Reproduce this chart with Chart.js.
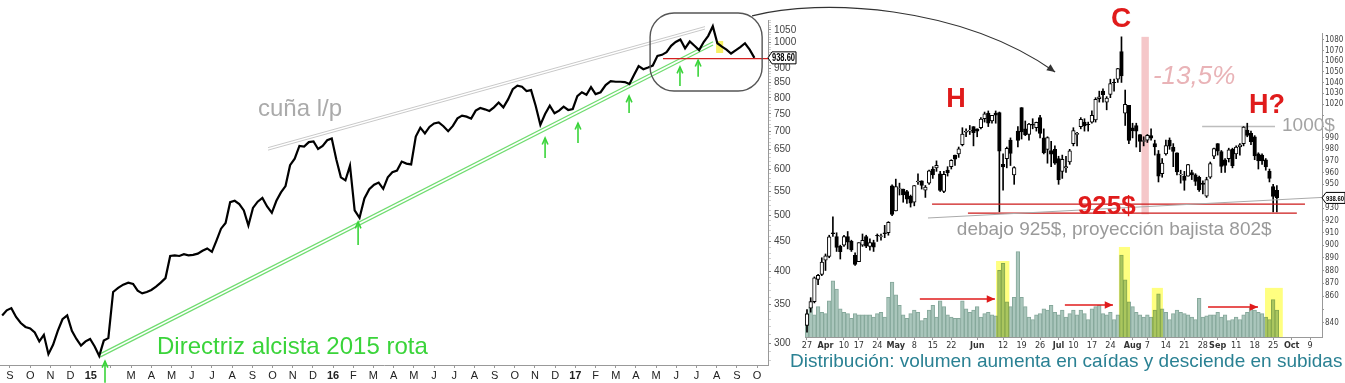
<!DOCTYPE html>
<html>
<head>
<meta charset="utf-8">
<script src="https://cdn.jsdelivr.net/npm/chart.js"></script>
<style>
  html, body { margin: 0; padding: 0; background: #fff; }
  #wrap { position: relative; width: 1345px; height: 383px; overflow: hidden; }
  #left { position: absolute; left: 0; top: 0; }
  #right { position: absolute; left: 800px; top: 0; }
</style>
</head>
<body>
<div id="wrap">
  <canvas id="left" width="1345" height="383"></canvas>
  <canvas id="right" width="545" height="383"></canvas>
</div>
<script>
const SANS = '"Liberation Sans", Arial, sans-serif';
const NARROW = '"Liberation Sans Narrow", "DejaVu Sans Condensed", "Liberation Sans", sans-serif';

// long term: weekly closes, one every Wednesday from 20 Aug 2014
const weekStart = Date.UTC(2014, 7, 20);
const weeklyClose = [
  335, 342, 345, 333, 325, 320, 318, 313, 302, 310,
  287, 298, 315, 330, 335, 315, 305, 297, 302, 305,
  296, 285, 303, 306, 368, 374, 379, 382, 380, 370,
  366, 368, 371, 376, 382, 389, 425, 426, 425, 428,
  426, 427, 429, 434, 438, 432, 452, 474, 485, 527,
  530, 523, 510, 480, 515, 528, 536, 518, 505, 530,
  548, 562, 611, 627, 660, 658, 670, 672, 652, 660,
  675, 680, 625, 582, 575, 610, 510, 495, 535, 555,
  565, 570, 556, 582, 594, 598, 620, 615, 613, 685,
  710, 694, 712, 722, 725, 714, 700, 715, 737, 745,
  742, 736, 760, 768, 764, 759, 770, 785, 770, 795,
  828, 840, 836, 822, 825, 775, 718, 750, 775, 752,
  760, 772, 762, 765, 805, 818, 810, 835, 812, 818,
  842, 855, 853, 853, 852, 845, 876, 908, 897, 903,
  910, 946, 950, 960, 985, 1000, 1010, 975, 1002, 985,
  968, 1000, 1025, 1065, 995, 982, 970, 955, 967, 980,
  995, 970, 938.6
];
const leftLabels = [300, 350, 400, 450, 500, 550, 600, 650, 700, 750, 800, 850, 900, 1000, 1050];
const monthLetters = ['J', 'F', 'M', 'A', 'M', 'J', 'J', 'A', 'S', 'O', 'N', 'D'];

// daily candles 27 Mar - 26 Sep 2017
const firstDay = Date.UTC(2017, 2, 27);
const holidays = ['2017-04-14', '2017-05-29', '2017-07-04', '2017-09-04'];
const dayOpen = [
  838, 851, 856, 873, 877, 888, 891, 910, 907, 899,
  900, 907, 903, 892, 887, 900, 907, 899, 902, 908,
  907, 910, 910, 948.8, 927.8, 946.6, 946, 944, 940, 935,
  952, 953, 945, 951, 963, 964, 959, 944, 962, 965,
  975, 976, 984, 995, 996, 1000, 998, 999, 1007, 1012,
  1005, 1012, 1012.5, 967, 972, 988, 958, 996, 1017, 998,
  993, 1002, 999, 1008, 990, 980, 979, 980, 972, 961,
  964, 969, 985, 993, 1000, 1004, 1002, 1004, 1006, 1025,
  1032, 1022, 1029, 1040, 1043, 1069, 1012, 1019, 999, 1001,
  993, 987, 988, 992, 985, 976, 959, 976, 988, 982,
  977, 958, 957, 957, 960, 958, 956, 951, 940, 956,
  974, 985, 978, 971, 972, 980, 976, 982, 985, 997,
  994, 991, 976, 975, 971, 961, 948, 945
];
const dayHigh = [
  850, 859, 875, 877, 890, 893, 908, 923, 910, 900,
  908, 911, 904, 894, 902, 909, 908, 905, 904, 909,
  909, 916, 919, 949.6, 954.4, 951, 946, 945, 941, 949,
  959, 953, 949, 962, 965, 970, 961, 961, 965, 971,
  975, 982, 999, 998, 1001, 1000, 998, 1008, 1013, 1014,
  1010, 1014, 1013, 976, 982, 990, 965, 1000, 1017, 1005,
  1003, 1007, 1004, 1010, 998, 991, 987, 983, 974, 975,
  974, 980, 999, 995, 1008, 1007, 1004, 1014, 1026, 1032,
  1034, 1027, 1043, 1043, 1053, 1083, 1033, 1019, 1003, 1003,
  993, 991, 993, 998, 988, 979, 972, 988, 990, 985,
  977, 962, 961, 967, 962, 959, 957, 953, 956, 969,
  981, 985, 979, 972, 981, 981, 983, 985, 1000, 1003,
  996, 992, 977, 976, 972, 963, 950, 949
];
const dayLow = [
  833, 848, 855, 869, 876, 880, 890, 907, 895, 889,
  899, 897, 895, 884, 887, 899, 898, 896, 895, 903,
  904, 906, 908, 924, 927.8, 941, 935, 934, 931, 932,
  950, 946, 939, 950, 955, 961, 944, 943, 957, 963,
  966, 973, 983, 991, 993, 983, 991, 998, 1004, 1000,
  1003, 1003, 927, 945, 964, 966, 950, 982, 989, 992,
  988, 998, 996, 990, 976, 968, 965, 967, 950, 955,
  960, 967, 983, 983, 998, 996, 996, 1003, 1004, 1022,
  1022, 1015, 1026, 1032, 1040, 1040, 1001, 985, 990, 982,
  978, 983, 986, 988, 975, 952, 956, 975, 980, 965,
  958, 951, 945, 957, 954, 949, 944, 942, 939, 955,
  972, 975, 960, 960, 969, 964, 972, 975, 983, 991,
  984, 971, 963, 967, 962, 952, 927, 927
];
const dayClose = [
  846.8, 856, 874.3, 876.3, 886.5, 891.5, 906.8, 909.3, 898.3, 894.9,
  907, 902.4, 896.2, 884.7, 902, 903.8, 899.2, 902.1, 898.5, 907.4,
  907.6, 909.3, 918.4, 925, 948.2, 946.9, 941, 937.5, 934.2, 949,
  952.8, 949, 947.6, 961.4, 958, 966.1, 944.8, 958.5, 959.8, 970.5,
  971.5, 980.4, 993.4, 995.8, 996.7, 994.6, 996, 1006.7, 1011.3, 1003,
  1010.1, 1010.3, 978.3, 964.9, 980.8, 976.5, 964.2, 987.7, 995.2, 992.6,
  1002.2, 1001.3, 1003.7, 994, 976.8, 990.3, 975.9, 968, 953.7, 971.4,
  965.1, 978.8, 996.5, 994.1, 1006.5, 1000.6, 1001.8, 1010, 1024.4, 1026.9,
  1028.7, 1025.7, 1039, 1039.9, 1052.8, 1046, 1020, 987.8, 996.2, 995.9,
  986.9, 987.6, 992.3, 989.8, 982, 956.9, 968, 983.3, 982.7, 978.2,
  960.6, 958.5, 953.3, 966.9, 958, 952.5, 945.3, 950, 954.1, 967.6,
  980.6, 978.3, 965.3, 966, 979.5, 965.9, 982, 984, 999.6, 992.2,
  986.8, 974.2, 969.9, 970, 964.7, 955.1, 939.8, 938.6
];
// volume, millions of shares
const dayVolume = [
  2.0, 2.6, 1.9, 2.6, 2.1, 2.0, 3.1, 4.8, 4.1, 2.4,
  2.1, 2.0, 1.6, 2.0, 1.9, 1.9, 1.9, 1.9, 1.7, 2.0,
  2.1, 1.7, 3.4, 4.7, 3.6, 2.7, 1.9, 1.6, 2.0, 2.3,
  2.1, 1.4, 1.6, 2.3, 2.7, 1.7, 3.1, 2.6, 1.9, 1.7,
  1.6, 1.6, 3.1, 2.4, 2.1, 2.3, 2.6, 1.7, 2.0, 2.1,
  1.9, 1.8, 5.7, 6.3, 3.0, 2.6, 3.4, 7.3, 3.4, 2.6,
  1.7, 1.5, 1.9, 2.0, 2.4, 2.3, 2.7, 2.1, 1.9, 2.3,
  1.7, 2.0, 2.3, 1.9, 2.3, 2.0, 1.5, 2.4, 2.6, 2.7,
  2.0, 1.9, 2.1, 1.5, 1.9, 7.0, 4.9, 3.0, 2.6, 2.1,
  1.9, 1.7, 1.9, 1.7, 2.3, 3.7, 2.4, 2.1, 1.5, 2.0,
  2.3, 2.1, 2.0, 1.9, 1.7, 1.5, 3.3, 1.7, 1.8, 1.9,
  1.9, 2.1, 1.7, 1.9, 1.4, 1.5, 1.7, 1.5, 1.9, 2.1,
  2.5, 2.3, 2.1, 2.0, 1.7, 1.5, 3.2, 2.3
];
const rightLabels = [840, 860, 870, 880, 890, 900, 910, 920, 930, 950, 960, 970, 980, 990,
  1020, 1030, 1040, 1050, 1060, 1070, 1080];
const monthNames = ['Jan', 'Feb', 'Mar', 'Apr', 'May', 'Jun', 'Jul', 'Aug', 'Sep', 'Oct', 'Nov', 'Dec'];
const lastPrice = 938.6;

// ---------- helpers ----------
const DAY = 864e5;
function monthsSinceSep14(t) {
  const d = new Date(t);
  const y = d.getUTCFullYear(), m = d.getUTCMonth();
  const dim = new Date(Date.UTC(y, m + 1, 0)).getUTCDate();
  return (y - 2014) * 12 + (m - 8) + (d.getUTCDate() - 1) / dim;
}
const weeklyPoints = weeklyClose.map((c, i) => ({ x: monthsSinceSep14(weekStart + i * 7 * DAY), y: c }));

function monthText(v) {
  if (v === 5) return '';            // arrow sits there
  const cal = (8 + v) % 12;
  if (cal === 0) return String(2014 + Math.floor((8 + v) / 12)).slice(2);
  return monthLetters[cal];
}
const leftMinor = [];
for (let v = 280; v <= 1090; v += 10) leftMinor.push(v);

// trading calendar, runs past the data to the end of the axis
const days = [];
for (let t = firstDay; days.length < 141; t += DAY) {
  const d = new Date(t);
  const wd = d.getUTCDay();
  if (wd !== 0 && wd !== 6 && !holidays.includes(d.toISOString().slice(0, 10))) days.push(d);
}
const monthStarts = [];
days.forEach((d, k) => { if (k > 0 && d.getUTCMonth() !== days[k - 1].getUTCMonth()) monthStarts.push(k); });
const mondayOf = d => d.getTime() - ((d.getUTCDay() + 6) % 7) * DAY;
const dayTickText = {}, dayTickBold = {};
days.forEach((d, k) => {
  if (k > 139) return;
  if (monthStarts.includes(k)) { dayTickText[k] = monthNames[d.getUTCMonth()]; dayTickBold[k] = true; return; }
  const newWeek = k === 0 || mondayOf(d) !== mondayOf(days[k - 1]);
  if (newWeek && !monthStarts.some(m => Math.abs(m - k) <= 3)) dayTickText[k] = String(d.getUTCDate());
});
const dayTicks = Object.keys(dayTickText).map(Number);
const rightMinor = [];
for (let v = 840; v <= 1080; v += 10) rightMinor.push(v);

const bodies = dayOpen.map((o, i) => ({ x: i, y: [o, dayClose[i]] }));
const bodyColors = dayOpen.map((o, i) => dayClose[i] >= o ? '#ffffff' : '#000000');
const wicks = dayLow.map((l, i) => ({ x: i, y: [l, dayHigh[i]] }));
const vols = dayVolume.map((v, i) => ({ x: i, y: v }));

// ---------- annotation plugin ----------
function arrowHead(ctx, x0, y0, x1, y1, size, filled) {
  const a = Math.atan2(y1 - y0, x1 - x0);
  ctx.beginPath();
  ctx.moveTo(x1 - size * Math.cos(a - 0.42), y1 - size * Math.sin(a - 0.42));
  ctx.lineTo(x1, y1);
  ctx.lineTo(x1 - size * Math.cos(a + 0.42), y1 - size * Math.sin(a + 0.42));
  if (filled) { ctx.closePath(); ctx.fill(); } else ctx.stroke();
}

function drawNotes(chart, items) {
  if (!items) return;
  const ctx = chart.ctx;
  const P = (q, axis) => [chart.scales.x.getPixelForValue(q[0]), chart.scales[axis || 'y'].getPixelForValue(q[1])];
  for (const it of items) {
    ctx.save();
    ctx.strokeStyle = it.color;
    ctx.fillStyle = it.color;
    ctx.lineWidth = it.width || 1;
    if (it.blend) ctx.globalCompositeOperation = it.blend;
    if (it.type === 'line' || it.type === 'arrow') {
      const a = P(it.from, it.axis), b = P(it.to, it.axis);
      ctx.beginPath(); ctx.moveTo(a[0], a[1]); ctx.lineTo(b[0], b[1]); ctx.stroke();
      if (it.type === 'arrow') arrowHead(ctx, a[0], a[1], b[0], b[1], it.head, it.filled);
    } else if (it.type === 'box') {
      const a = P(it.from, it.axis), b = P(it.to, it.axis);
      ctx.fillRect(a[0], a[1], b[0] - a[0], b[1] - a[1]);
    } else if (it.type === 'round') {
      const a = P(it.from), b = P(it.to), r = it.r;
      ctx.beginPath();
      ctx.moveTo(a[0] + r, a[1]);
      ctx.arcTo(b[0], a[1], b[0], b[1], r);
      ctx.arcTo(b[0], b[1], a[0], b[1], r);
      ctx.arcTo(a[0], b[1], a[0], a[1], r);
      ctx.arcTo(a[0], a[1], b[0], a[1], r);
      ctx.closePath(); ctx.stroke();
    } else if (it.type === 'curve') {
      const p = it.pts.map(q => P(q));
      ctx.beginPath(); ctx.moveTo(p[0][0], p[0][1]);
      ctx.bezierCurveTo(p[1][0], p[1][1], p[2][0], p[2][1], p[3][0], p[3][1]);
      ctx.stroke();
      arrowHead(ctx, p[2][0], p[2][1], p[3][0], p[3][1], it.head, true);
    } else if (it.type === 'text') {
      const a = P(it.at, it.axis);
      ctx.font = it.font;
      ctx.textAlign = it.align || 'left';
      ctx.textBaseline = 'middle';
      ctx.fillText(it.text, a[0], a[1]);
    } else if (it.type === 'tag') {
      const y = chart.scales.y.getPixelForValue(it.value), x = chart.chartArea.right, h = it.h;
      ctx.beginPath();
      ctx.moveTo(x, y); ctx.lineTo(x + 4, y - h / 2); ctx.lineTo(x + it.w, y - h / 2);
      ctx.lineTo(x + it.w, y + h / 2); ctx.lineTo(x + 4, y + h / 2); ctx.closePath();
      ctx.fillStyle = '#fff'; ctx.fill(); ctx.strokeStyle = '#000'; ctx.stroke();
      ctx.fillStyle = '#000'; ctx.font = it.font; ctx.textBaseline = 'middle'; ctx.textAlign = 'left';
      ctx.fillText(it.text, x + 4, y + 0.5, it.w - 5);
    }
    ctx.restore();
  }
}

const notesPlugin = {
  id: 'notes',
  beforeDatasetsDraw(chart, args, opts) { drawNotes(chart, opts.back); },
  afterDatasetsDraw(chart, args, opts) { drawNotes(chart, opts.front); }
};

// ---------- left: long-term chart ----------
const GREEN = '#3ad43a';
const greenArrow = (m, tail, tip) => ({ type: 'arrow', from: [m, tail], to: [m, tip], color: GREEN, width: 1.6, head: 7 });

new Chart(document.getElementById('left'), {
  type: 'line',
  data: {
    datasets: [{
      data: weeklyPoints,
      borderColor: '#000',
      borderWidth: 2.2,
      pointRadius: 0,
      tension: 0
    }]
  },
  options: {
    responsive: false,
    animation: false,
    events: [],
    layout: { padding: { left: 0, top: 20, right: 540, bottom: 0 } },
    plugins: {
      legend: { display: false },
      tooltip: { enabled: false },
      notes: {
        back: [
          { type: 'line', from: [12.78, 649], to: [34.42, 1053], color: '#c9c9c9', width: 1 },
          { type: 'line', from: [12.78, 649 * 1.01], to: [34.42, 1053 * 1.01], color: '#c9c9c9', width: 1 },
          { type: 'line', from: [4.458, 283.6], to: [34.82, 988], color: '#6fdc6f', width: 1.2 },
          { type: 'line', from: [4.458, 283.6 * 1.013], to: [34.82, 988 * 1.013], color: '#6fdc6f', width: 1.2 },
          { type: 'box', from: [34.97, 1004], to: [35.32, 957], color: '#f6f066' }
        ],
        front: [
          { type: 'line', from: [32.34, 936], to: [37.54, 936], color: '#d42020', width: 1.2 },
          { type: 'round', from: [31.70, 1123], to: [37.25, 822], r: 24, color: '#555', width: 1.4 },
          { type: 'curve', pts: [[36.75, 1110], [40.12, 1193], [47.05, 1160], [51.76, 887]], color: '#333', width: 1.2, head: 9 },
          greenArrow(4.705, 256, 279),
          greenArrow(17.24, 444, 487),
          greenArrow(26.5, 629, 681),
          greenArrow(28.13, 668, 723),
          greenArrow(30.66, 753, 806),
          greenArrow(33.18, 839, 905),
          greenArrow(34.08, 870, 930),
          { type: 'text', at: [12.28, 765], text: 'cuña l/p', font: '24px ' + SANS, color: '#aaaaaa' },
          { type: 'text', at: [7.28, 295], text: 'Directriz alcista 2015 rota', font: '24px ' + SANS, color: '#3ad43a' },
          { type: 'text', at: [38.63, 278], text: 'Distribución: volumen aumenta en caídas y desciende en subidas', font: '19px ' + SANS, color: '#2a8193' },
          { type: 'tag', value: lastPrice, text: '938.60', w: 28, h: 12, font: 'bold 10px ' + SANS }
        ]
      }
    },
    scales: {
      x: {
        type: 'linear',
        min: -0.495,
        max: 37.54,
        afterBuildTicks: s => { s.ticks = monthLetters.concat(monthLetters, monthLetters, ['J', 'F']).map((_, i) => ({ value: i })); },
        afterFit: s => { s.height = 18; },
        grid: { drawOnChartArea: false, tickLength: 3, color: '#999' },
        border: { color: '#999' },
        ticks: {
          autoSkip: false, maxRotation: 0, padding: 1, color: '#222',
          callback: v => monthText(v),
          font: c => ({ family: SANS, size: 11, weight: (c.tick && (8 + c.tick.value) % 12 === 0) ? 'bold' : 'normal' })
        }
      },
      y: {
        type: 'logarithmic',
        position: 'right',
        min: 274.8,
        max: 1092,
        afterBuildTicks: s => { s.ticks = leftMinor.map(v => ({ value: v })); },
        afterFit: s => { s.width = 37; },
        grid: { drawOnChartArea: false, tickLength: 3, color: c => (c.tick && leftLabels.includes(c.tick.value)) ? '#888' : '#d0d0d0' },
        border: { color: '#999' },
        ticks: {
          autoSkip: false, padding: 3, color: '#444',
          font: { family: SANS, size: 10 },
          callback: v => leftLabels.includes(v) ? String(v) : ''
        }
      }
    }
  },
  plugins: [notesPlugin]
});

// ---------- right: 2017 daily candles ----------
const RED = '#e01b1b';
new Chart(document.getElementById('right'), {
  type: 'bar',
  data: {
    datasets: [
      { data: bodies, backgroundColor: bodyColors, borderColor: '#000', borderWidth: 1, borderSkipped: false,
        barThickness: 3.6, grouped: false, order: 0 },
      { data: wicks, backgroundColor: '#000', barThickness: 1, grouped: false, order: 1 },
      { data: vols, yAxisID: 'yv', backgroundColor: '#aac6bc', borderColor: '#86a89b', borderWidth: 1,
        barThickness: 3.7, grouped: false, order: 2 }
    ]
  },
  options: {
    responsive: false,
    animation: false,
    events: [],
    layout: { padding: { left: 5, top: 33, right: 0, bottom: 0 } },
    plugins: {
      legend: { display: false },
      tooltip: { enabled: false },
      notes: {
        back: [
          { type: 'box', from: [90.4, 1083], to: [92.4, 925], color: '#f5c7c9' },
          { type: 'line', from: [106.8, 1000], to: [126.5, 1000], color: '#bdbdbd', width: 1.5 }
        ],
        front: [
          { type: 'box', from: [51.1, 6.5], to: [54.7, 0], axis: 'yv', color: '#ffff80', blend: 'multiply' },
          { type: 'box', from: [84.3, 7.7], to: [87.3, 0], axis: 'yv', color: '#ffff80', blend: 'multiply' },
          { type: 'box', from: [93.2, 4.2], to: [96.2, 0], axis: 'yv', color: '#ffff80', blend: 'multiply' },
          { type: 'box', from: [123.8, 4.2], to: [128.6, 0], axis: 'yv', color: '#ffff80', blend: 'multiply' },
          { type: 'line', from: [33.8, 933.4], to: [134.6, 933.4], color: '#cc1a1a', width: 1.3 },
          { type: 'line', from: [43.5, 926], to: [132.4, 926], color: '#cc1a1a', width: 1.3 },
          { type: 'line', from: [32.7, 922], to: [139.2, 939], color: '#aaaaaa', width: 1 },
          { type: 'arrow', from: [30.5, 3.25], to: [50.8, 3.25], axis: 'yv', color: RED, width: 1.5, head: 9, filled: true },
          { type: 'arrow', from: [69.7, 2.74], to: [82.7, 2.74], axis: 'yv', color: RED, width: 1.5, head: 9, filled: true },
          { type: 'arrow', from: [108.4, 2.56], to: [121.9, 2.56], axis: 'yv', color: RED, width: 1.5, head: 9, filled: true },
          { type: 'text', at: [40.3, 1024], text: 'H', font: 'bold 27px ' + SANS, color: RED, align: 'center' },
          { type: 'text', at: [84.9, 1100], text: 'C', font: 'bold 28px ' + SANS, color: RED, align: 'center' },
          { type: 'text', at: [124.3, 1019], text: 'H?', font: 'bold 27px ' + SANS, color: RED, align: 'center' },
          { type: 'text', at: [93.5, 1045], text: '-13,5%', font: 'italic 26px ' + SANS, color: '#e9b3b7' },
          { type: 'text', at: [128.4, 1000.4], text: '1000$', font: '19px ' + SANS, color: '#a3a3a3' },
          { type: 'text', at: [73.2, 931], text: '925$', font: 'bold 26px ' + SANS, color: RED },
          { type: 'text', at: [40.5, 912.4], text: 'debajo 925$, proyección bajista 802$', font: '19px ' + SANS, color: '#9a9a9a' },
          { type: 'tag', value: lastPrice, text: '938.60', w: 23, h: 11, font: 'bold 8px ' + SANS }
        ]
      }
    },
    scales: {
      x: {
        type: 'linear',
        min: -0.54,
        max: 139.2,
        offset: false,
        afterBuildTicks: s => { s.ticks = dayTicks.map(v => ({ value: v })); },
        afterFit: s => { s.height = 46; },
        grid: { drawOnChartArea: false, offset: false, tickLength: 3, color: '#999' },
        border: { color: '#999' },
        ticks: {
          autoSkip: false, maxRotation: 0, padding: 0, color: '#333',
          callback: v => dayTickText[v] || '',
          font: c => ({ family: NARROW, size: 9, weight: (c.tick && dayTickBold[c.tick.value]) ? 'bold' : 'normal' })
        }
      },
      y: {
        type: 'logarithmic',
        position: 'right',
        min: 829.5,
        max: 1086.7,
        afterBuildTicks: s => { s.ticks = rightMinor.map(v => ({ value: v })); },
        afterFit: s => { s.width = 23; },
        grid: { drawOnChartArea: false, tickLength: 2, color: '#999' },
        border: { color: '#999' },
        ticks: {
          autoSkip: false, padding: 1, color: '#444',
          font: { family: NARROW, size: 8 },
          callback: v => rightLabels.includes(v) ? String(v) : ''
        }
      },
      yv: { type: 'linear', display: false, min: 0, max: 26 }
    }
  },
  plugins: [notesPlugin]
});
</script>
</body>
</html>
